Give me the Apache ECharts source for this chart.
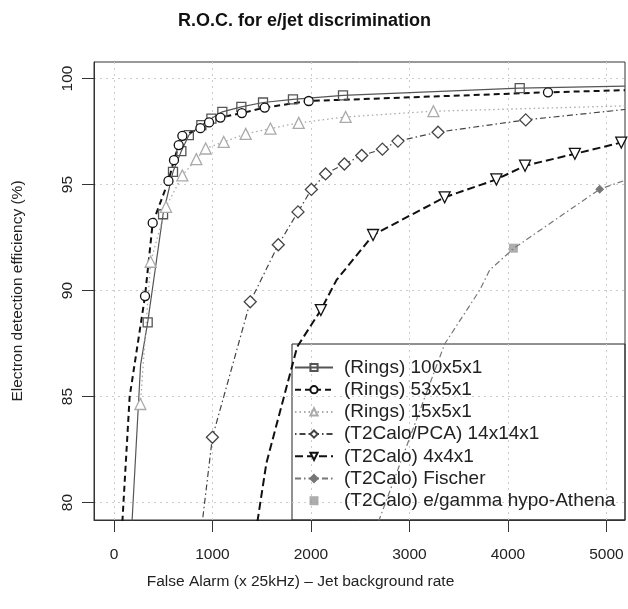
<!DOCTYPE html>
<html lang="en">
<head>
    <meta charset="UTF-8">
    <title>R.O.C. for e/jet discrimination</title>
    <script src="https://cdn.jsdelivr.net/npm/echarts@6/dist/echarts.min.js"></script>
</head>
<body style="margin:0">
<div id="main" style="width: 628px;height: 609px;"></div>
<script type="text/javascript">
    // [false alarm, efficiency, marker?]
    var rings100 = [[183, 79.1, 0], [270, 86.5, 0], [342, 88.5, 1], [498, 93.6, 1], [599, 95.6, 1], [684, 96.58, 1],
        [760, 97.33, 1], [887, 97.8, 1], [989, 98.11, 1], [1100, 98.43, 1], [1293, 98.66, 1], [1513, 98.87, 1],
        [1817, 99.02, 1], [2325, 99.21, 1], [4119, 99.55, 1], [5188, 99.64, 0]];
    var rings53 = [[85, 79.1, 0], [159, 85.0, 0], [315, 89.74, 1], [393, 93.19, 1], [553, 95.17, 1], [609, 96.15, 1],
        [657, 96.86, 1], [694, 97.3, 1], [877, 97.66, 1], [965, 97.93, 1], [1080, 98.16, 1], [1298, 98.37, 1],
        [1530, 98.63, 1], [1977, 98.94, 1], [4406, 99.35, 1], [5188, 99.45, 0]];
    var rings15 = [[268, 84.65, 1], [372, 91.36, 1], [528, 93.95, 1], [694, 95.43, 1], [836, 96.2, 1], [931, 96.7, 1],
        [1114, 97.01, 1], [1337, 97.39, 1], [1588, 97.64, 1], [1875, 97.91, 1], [2352, 98.19, 1], [3243, 98.46, 1],
        [5188, 98.71, 0]];
    var pca14 = [[897, 79.1, 0], [999, 83.08, 1], [1383, 89.47, 1], [1668, 92.16, 1], [1868, 93.71, 1], [2004, 94.77, 1],
        [2148, 95.5, 1], [2339, 95.97, 1], [2515, 96.37, 1], [2725, 96.67, 1], [2883, 97.05, 1], [3290, 97.47, 1],
        [4180, 98.05, 1], [5188, 98.54, 0]];
    var t2calo4 = [[1456, 79.1, 0], [1547, 81.86, 0], [1860, 87.35, 0], [2100, 89.08, 1], [2258, 90.49, 0],
        [2630, 92.62, 1], [3357, 94.4, 1], [3882, 95.24, 1], [4173, 95.89, 1], [4679, 96.45, 1], [5150, 96.98, 1]];
    var fischer = [[2685, 79.1, 0], [3357, 87.48, 0], [3713, 90.02, 0], [3814, 90.97, 0], [4058, 91.99, 0],
        [4931, 94.78, 1], [5188, 95.2, 0]];
    var egamma = [[4055, 92.0]];

    var xTicks = [0, 1000, 2000, 3000, 4000, 5000];
    var yTicks = [80, 85, 90, 95, 100];

    function toData(pts) {
        return pts.map(function (p) {
            return p[2] ? [p[0], p[1]] : {value: [p[0], p[1]], symbol: 'none'};
        });
    }

    function curve(name, pts, symbol, size, color, lw, dash, fill) {
        return {
            name: name,
            type: 'line',
            data: toData(pts),
            symbol: symbol,
            symbolSize: size,
            lineStyle: {color: color, width: lw, type: dash},
            itemStyle: {color: fill, borderColor: color, borderWidth: 1.3}
        };
    }

    var font = 'Liberation Sans, Arial, Helvetica, sans-serif';
    var myChart = echarts.init(document.getElementById('main'));

    var series = [
        curve('(Rings) 100x5x1', rings100, 'rect', 9, '#555', 1.2, 'solid', 'rgba(255,255,255,0)'),
        curve('(Rings) 53x5x1', rings53, 'circle', 9, '#111', 2, [6, 4], '#fff'),
        curve('(Rings) 15x5x1', rings15, 'triangle', 11, '#aaa', 1.3, [1.5, 3], '#fff'),
        curve('(T2Calo/PCA) 14x14x1', pca14, 'diamond', 12, '#444', 1.2, [1.5, 3, 6, 3], '#fff'),
        curve('(T2Calo) 4x4x1', t2calo4, 'triangle', 11, '#111', 2, [8, 4], '#fff'),
        curve('(T2Calo) Fischer', fischer, 'diamond', 7, '#777', 1.2, [6, 3, 1.5, 3], '#777'),
        {
            name: '(T2Calo) e/gamma hypo-Athena',
            type: 'scatter',
            data: egamma,
            symbol: 'rect',
            symbolSize: 9,
            itemStyle: {color: '#999'}
        }
    ];
    series[4].symbolRotate = 180;

    var legendNames = series.map(function (s, i) {
        return i === 6 ? {name: s.name, icon: 'path://M0,0h10v10h-10z', itemStyle: {color: '#999'}} : {name: s.name};
    });

    var option = {
        animation: false,
        backgroundColor: '#fff',
        textStyle: {fontFamily: font},
        title: {
            text: 'R.O.C. for e/jet discrimination',
            left: 173,
            top: 7,
            textStyle: {fontSize: 18, fontWeight: 'bold', color: '#111', fontFamily: font}
        },
        grid: {
            left: 94, right: 3, top: 62, bottom: 89,
            show: true, borderColor: '#333', borderWidth: 1
        },
        legend: {
            orient: 'vertical',
            left: 294,
            top: 358,
            padding: 0,
            itemWidth: 38,
            itemHeight: 9,
            itemGap: 3.2,
            symbolKeepAspect: true,
            selectedMode: false,
            data: legendNames,
            textStyle: {fontSize: 19, color: '#222', fontFamily: font, padding: [0, 0, 0, 6]}
        },
        graphic: [{
            type: 'rect',
            shape: {x: 292, y: 344, width: 333, height: 176},
            style: {fill: null, stroke: '#222', lineWidth: 1},
            silent: true
        }],
        xAxis: {
            type: 'value',
            min: -203,
            max: 5188,
            name: 'False Alarm (x 25kHz) \u2013 Jet background rate',
            nameLocation: 'middle',
            nameGap: 54,
            nameTextStyle: {fontSize: 15.5, color: '#222', padding: [0, 118, 0, 0]},
            axisLine: {show: true, onZero: false, lineStyle: {color: '#333'}},
            axisTick: {show: true, inside: false, length: 12, customValues: xTicks, lineStyle: {color: '#333'}},
            axisLabel: {
                customValues: xTicks, margin: 27, fontSize: 15.5, color: '#222',
                formatter: function (v) { return String(v); }
            },
            splitLine: {show: true, lineStyle: {color: '#ccc', type: [2, 4]}}
        },
        yAxis: {
            type: 'value',
            min: 79.18,
            max: 100.78,
            name: 'Electron detection efficiency (%)',
            nameLocation: 'middle',
            nameGap: 68,
            nameTextStyle: {fontSize: 15.5, color: '#222'},
            axisLine: {show: true, onZero: false, lineStyle: {color: '#333'}},
            axisTick: {show: true, inside: false, length: 12, customValues: yTicks, lineStyle: {color: '#333'}},
            axisLabel: {
                customValues: yTicks, margin: 18, fontSize: 15.5, color: '#222', rotate: 90,
                formatter: function (v) { return String(v); }
            },
            splitLine: {show: true, lineStyle: {color: '#ccc', type: [2, 4]}}
        },
        series: series
    };
    myChart.setOption(option);
</script>
</body>
</html>
